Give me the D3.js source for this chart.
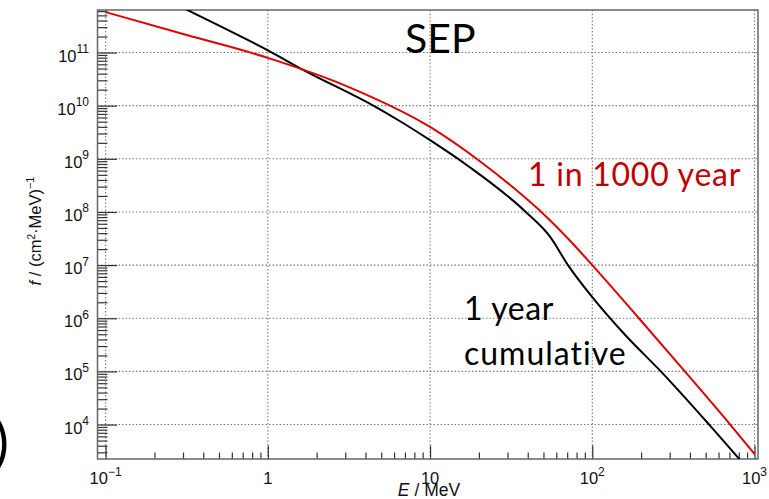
<!DOCTYPE html>
<html>
<head>
<meta charset="utf-8">
<script src="https://cdn.jsdelivr.net/npm/d3@7"></script>
<style>
  body { margin: 0; background: #fff; }
  svg { display: block; }
</style>
</head>
<body>
<svg id="chart" width="769" height="499"></svg>
<script>
// Solar energetic particle fluence spectra
// Energy in MeV, fluence f in (cm^2 MeV)^-1

const energyThousandYear = [0.1, 0.316, 1, 3.16, 10, 20, 31.6, 51.3, 70.8, 100, 195, 372, 708, 1000];
const fluenceThousandYear = [5.75e11, 2.14e11, 7.94e10, 2.24e10, 3.98e9, 9.3e8, 3.1e8, 8.5e7, 3.16e7, 1.0e7, 9.8e5, 1.0e5, 1.0e4, 2.8e3];

const energyOneYear = [0.282, 0.562, 1, 1.66, 4.47, 6.46, 10, 17.4, 38.9, 55.0, 70.8, 100, 158, 269, 525, 891];
const fluenceOneYear = [7.6e11, 2.69e11, 1.10e11, 4.68e10, 1.0e10, 5.2e9, 2.24e9, 7.1e8, 1.0e8, 3.4e7, 1.0e7, 2.5e6, 5.0e5, 9.5e4, 1.0e4, 1.58e3];

const xTickValues = [0.1, 1, 10, 100, 1000];
const xTickExponents = ["\u22121", "", "", "2", "3"];
const xTickBases = ["10", "1", "10", "10", "10"];
const yTickExponents = [4, 5, 6, 7, 8, 9, 10, 11];

const svg = d3.select("#chart");

const plot = { left: 97.5, right: 758, top: 10, bottom: 459 };

const x = d3.scaleLog()
  .domain([Math.pow(10, -1.05), Math.pow(10, 3.0215)])
  .range([plot.left, plot.right]);
const y = d3.scaleLog()
  .domain([Math.pow(10, 3.352), Math.pow(10, 11.80)])
  .range([plot.bottom, plot.top]);

svg.append("defs").append("clipPath").attr("id", "plotClip")
  .append("rect")
  .attr("x", plot.left).attr("y", plot.top)
  .attr("width", plot.right - plot.left).attr("height", plot.bottom - plot.top);

// dotted grid at each decade
const gridColor = "#7a7a7a";
const grid = svg.append("g");
xTickValues.forEach(v => {
  grid.append("line")
    .attr("x1", x(v)).attr("x2", x(v))
    .attr("y1", plot.top).attr("y2", plot.bottom)
    .attr("stroke", gridColor).attr("stroke-width", 1.1)
    .attr("stroke-dasharray", "1.5,2");
});
yTickExponents.forEach(e => {
  const v = Math.pow(10, e);
  grid.append("line")
    .attr("x1", plot.left).attr("x2", plot.right)
    .attr("y1", y(v)).attr("y2", y(v))
    .attr("stroke", gridColor).attr("stroke-width", 1.1)
    .attr("stroke-dasharray", "1.5,2");
});

// inward ticks, drawn through d3 axes
const xMinor = [];
for (let d = -1; d < 3; d++) for (let m = 2; m <= 9; m++) xMinor.push(m * Math.pow(10, d));
const yMinor = [];
for (let d = 3; d <= 11; d++) for (let m = 2; m <= 9; m++) {
  const v = m * Math.pow(10, d);
  if (v >= y.domain()[0] && v <= y.domain()[1]) yMinor.push(v);
}

const tickColor = "#333";
function styleAxis(g) {
  g.select(".domain").remove();
  g.selectAll("text").remove();
  g.selectAll("line").attr("stroke", tickColor).attr("stroke-width", 1.2);
}

svg.append("g").attr("transform", `translate(0,${plot.bottom})`)
  .call(d3.axisTop(x).tickValues(xTickValues).tickSize(13.5).tickFormat(""))
  .call(styleAxis);
svg.append("g").attr("transform", `translate(0,${plot.bottom})`)
  .call(d3.axisTop(x).tickValues(xMinor).tickSize(6.5).tickFormat(""))
  .call(styleAxis);
svg.append("g").attr("transform", `translate(${plot.left},0)`)
  .call(d3.axisRight(y).tickValues(yTickExponents.map(e => Math.pow(10, e))).tickSize(19.5).tickFormat(""))
  .call(styleAxis);
svg.append("g").attr("transform", `translate(${plot.left},0)`)
  .call(d3.axisRight(y).tickValues(yMinor).tickSize(10).tickFormat(""))
  .call(styleAxis);

// frame
svg.append("rect")
  .attr("x", plot.left).attr("y", plot.top)
  .attr("width", plot.right - plot.left).attr("height", plot.bottom - plot.top)
  .attr("fill", "none").attr("stroke", "#666").attr("stroke-width", 1.5);

// tick labels
const labelFont = "'Liberation Sans', Arial, Helvetica, sans-serif";
xTickValues.forEach((v, i) => {
  const t = svg.append("text")
    .attr("x", x(v)).attr("y", 484)
    .attr("text-anchor", "middle")
    .attr("font-family", labelFont).attr("font-size", 16.5).attr("fill", "#111");
  t.append("tspan").text(xTickBases[i]);
  if (xTickExponents[i]) {
    t.append("tspan").attr("dy", -8).attr("font-size", 12).text(xTickExponents[i]);
  }
});
yTickExponents.forEach(e => {
  const t = svg.append("text")
    .attr("x", 89).attr("y", y(Math.pow(10, e)) + 9)
    .attr("text-anchor", "end")
    .attr("font-family", labelFont).attr("font-size", 16.5).attr("fill", "#111");
  t.append("tspan").text("10");
  t.append("tspan").attr("dy", -8.5).attr("font-size", 12).text(String(e));
});

// axis titles
const xt = svg.append("text")
  .attr("x", 429).attr("y", 496)
  .attr("text-anchor", "middle")
  .attr("font-family", labelFont).attr("font-size", 17.5).attr("fill", "#111");
xt.append("tspan").attr("font-style", "italic").text("E");
xt.append("tspan").text(" / MeV");

const yt = svg.append("text")
  .attr("transform", "translate(41,231) rotate(-90)")
  .attr("text-anchor", "middle")
  .attr("font-family", labelFont).attr("font-size", 16.5).attr("fill", "#111");
yt.append("tspan").attr("font-style", "italic").text("f");
yt.append("tspan").text(" / (cm");
yt.append("tspan").attr("dy", -6).attr("font-size", 10).text("2");
yt.append("tspan").attr("dy", 6).text("\u00b7MeV)");
yt.append("tspan").attr("dy", -7).attr("font-size", 11).text("\u22121");

// spectra
const line = d3.line()
  .x(d => x(d[0]))
  .y(d => y(d[1]))
  .curve(d3.curveMonotoneX);

const curves = svg.append("g").attr("clip-path", "url(#plotClip)");
curves.append("path")
  .datum(d3.zip(energyOneYear, fluenceOneYear))
  .attr("d", line)
  .attr("fill", "none").attr("stroke", "#000").attr("stroke-width", 2);
curves.append("path")
  .datum(d3.zip(energyThousandYear, fluenceThousandYear))
  .attr("d", line)
  .attr("fill", "none").attr("stroke", "#e00000").attr("stroke-width", 2);

// annotations
const noteFont = "Lato, 'Open Sans', sans-serif";
svg.append("text")
  .attr("x", 405).attr("y", 53)
  .attr("font-family", noteFont).attr("font-size", 41).attr("fill", "#000")
  .text("SEP");
svg.append("text")
  .attr("x", 528).attr("y", 186)
  .attr("font-family", noteFont).attr("font-size", 32).attr("letter-spacing", 0.75)
  .attr("fill", "#c00000")
  .text("1 in 1000 year");
svg.append("text")
  .attr("x", 464).attr("y", 320)
  .attr("font-family", noteFont).attr("font-size", 32).attr("letter-spacing", 0.6)
  .attr("fill", "#000")
  .text("1 year");
svg.append("text")
  .attr("x", 464).attr("y", 365)
  .attr("font-family", noteFont).attr("font-size", 32).attr("letter-spacing", 1)
  .attr("fill", "#000")
  .text("cumulative");

// panel bracket at the left edge
svg.append("text")
  .attr("x", -6).attr("y", 462)
  .attr("font-family", noteFont).attr("font-size", 56).attr("fill", "#000")
  .text(")");
</script>
</body>
</html>
